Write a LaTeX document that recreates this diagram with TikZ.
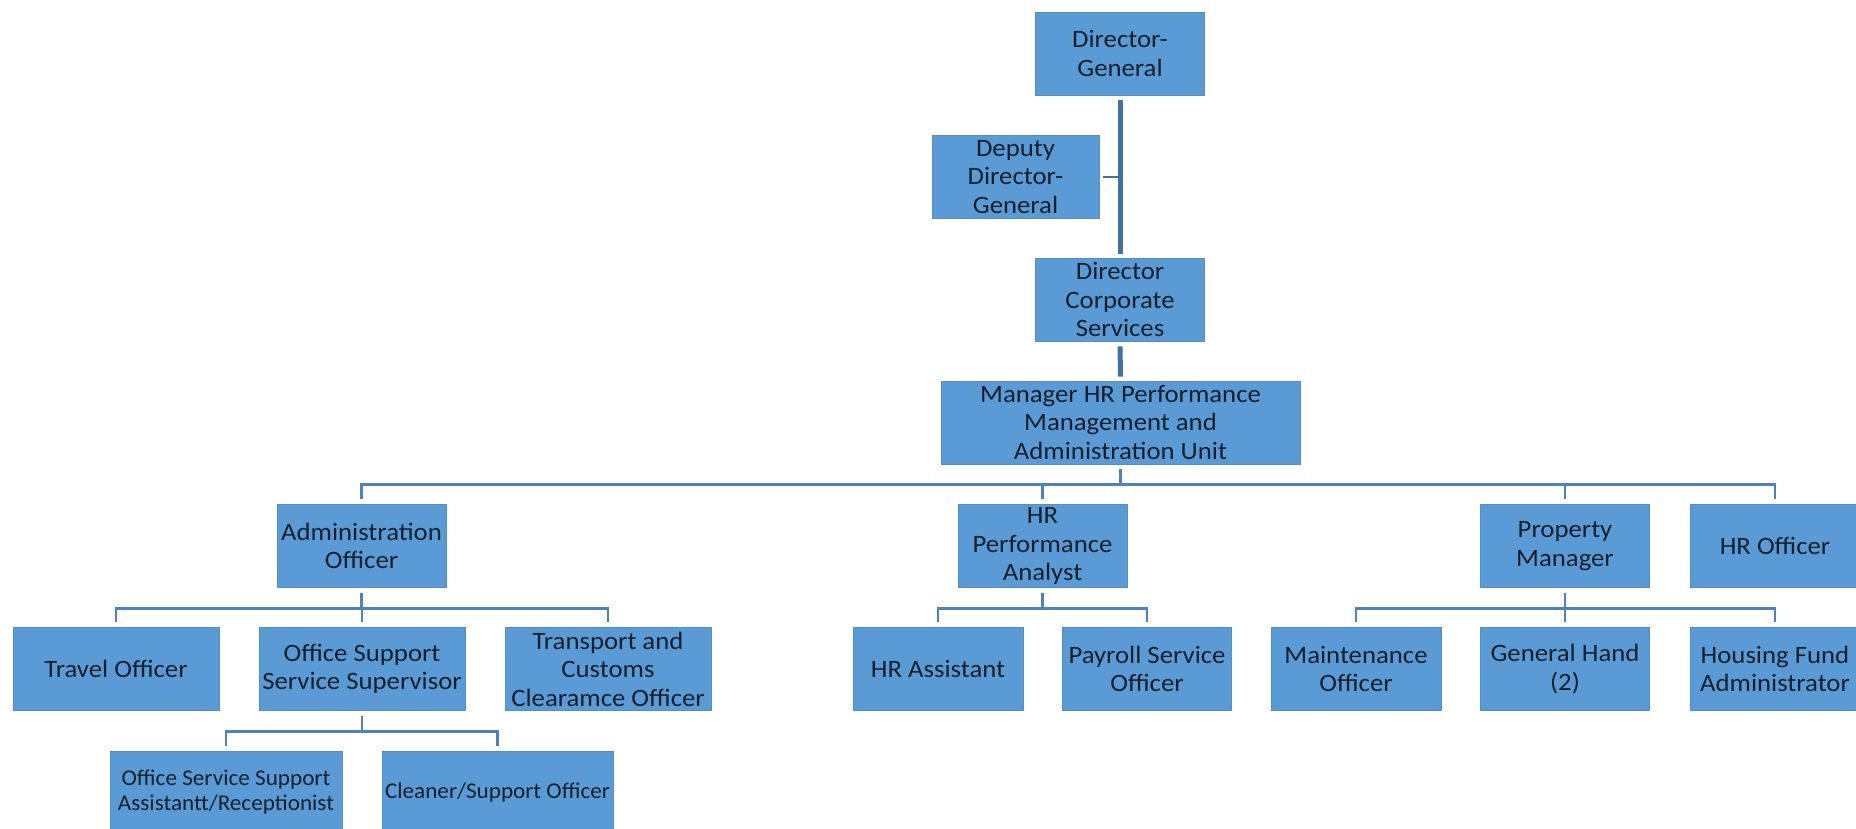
\documentclass[tikz,border=0pt]{standalone}
\usepackage{fontspec}
\setmainfont{Carlito}[FakeStretch=1.07]
\newfontfamily\smallrolefont{Carlito}[FakeStretch=1.03]
\usetikzlibrary{calc}
\definecolor{boxblue}{HTML}{5B9BD5}
\definecolor{linkblue}{HTML}{4F81BD}
\definecolor{spineblue}{HTML}{41719C}
\definecolor{ink}{HTML}{14202E}

\begin{document}
\begin{tikzpicture}[x=1pt,y=-1pt,
  role/.style={fill=boxblue, draw=boxblue!92!black, line width=0.6pt,
    inner sep=0pt, align=center, text=ink,
    font=\fontsize{25}{28.5}\selectfont,
    minimum width=169pt, minimum height=83pt},
  wide/.style={minimum width=206pt},
  smallrole/.style={minimum width=232pt, font=\smallrolefont\fontsize{22.5}{25}\selectfont},
  link/.style={draw=linkblue, line width=2.8pt, shorten <=5pt, shorten >=5pt},
  spine/.style={draw=spineblue, line width=5pt, shorten <=5pt, shorten >=4pt},
  sidelink/.style={draw=spineblue, line width=1.5pt, shorten <=4pt}]

\useasboundingbox (0,0) rectangle (1856,828);
\fill[white] (0,0) rectangle (1856,828);
\clip (0,0) rectangle (1856,828);

% Executive chain
\node[role] (dg)  at (1120,53.5)  {Director-\\General};
\node[role, minimum width=167pt] (dep) at (1015.5,177) {Deputy\\Director-\\General};
\node[role] (dcs) at (1120,299.5) {Director\\Corporate\\Services};
\node[role, minimum width=359pt] (mgr) at (1120.5,422.5)
  {Manager HR Performance\\Management and\\Administration Unit};

% Second level
\node[role] (admin) at (361.5,546) {Administration\\Officer};
\node[role] (hrpa)  at (1042.5,546) {HR\\Performance\\Analyst};
\node[role] (pm)    at (1565,546) {Property\\Manager};
\node[role] (hro)   at (1775,546) {HR Officer};

% Third level
\node[role, wide] (travel)    at (116,669) {Travel Officer};
\node[role, wide] (osss)      at (362,669) {Office Support\\Service Supervisor};
\node[role, wide] (transport) at (608,669) {Transport and\\Customs\\Clearamce Officer};
\node[role, minimum width=170pt] (hra) at (938,669) {HR Assistant};
\node[role] (payroll) at (1147,669) {Payroll Service\\Officer};
\node[role, minimum width=170pt] (maint) at (1356,669) {Maintenance\\Officer};
\node[role] (gh)  at (1565,669) {General Hand\\(2)};
\node[role] (hfa) at (1775,669) {Housing Fund\\Administrator};

% Fourth level
\node[role, smallrole] (ossa)    at (226,792.5) {Office Service Support\\Assistantt/Receptionist};
\node[role, smallrole, minimum width=231pt] (cleaner) at (497.5,792.5) {Cleaner/Support Officer};

% Executive spine
\draw[spine] (dg.south) -- (dcs.north);
\draw[spine] (dcs.south) -- (mgr.north);
\draw[sidelink] (dep.east) -- (dep.east -| dg.south);

% Reporting lines
\foreach \c in {admin,hrpa,pm,hro}
  \draw[link] (mgr.south) -- ++(0,20.5) -| (\c.north);
\foreach \c in {travel,osss,transport}
  \draw[link] (admin.south) -- ++(0,20.5) -| (\c.north);
\foreach \c in {hra,payroll}
  \draw[link] (hrpa.south) -- ++(0,20.5) -| (\c.north);
\foreach \c in {maint,gh,hfa}
  \draw[link] (pm.south) -- ++(0,20.5) -| (\c.north);
\foreach \c in {ossa,cleaner}
  \draw[link] (osss.south) -- ++(0,20.5) -| (\c.north);

\end{tikzpicture}
\end{document}
